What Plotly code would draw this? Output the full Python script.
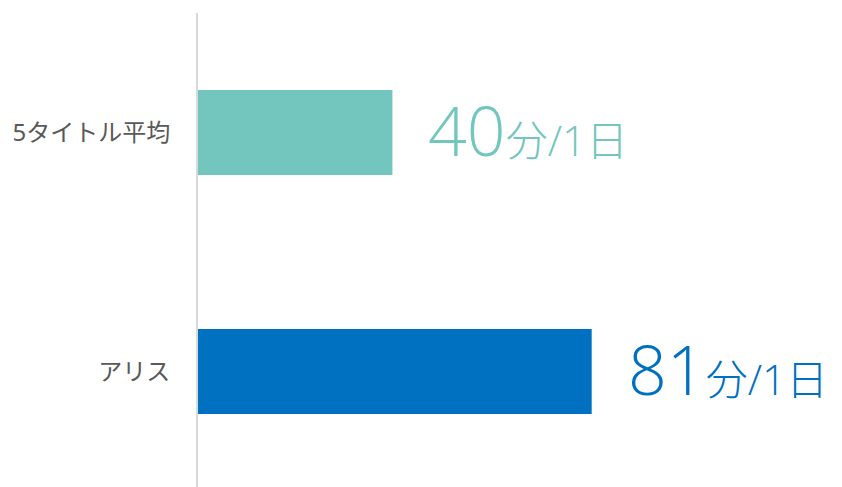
import plotly.graph_objects as go

# Daily play time (minutes per day)
categories = ["5タイトル平均", "アリス"]
minutes = [40, 81]
unit_label = "分/1日"
bar_colors = ["#72C6BE", "#0070C0"]

FONT = "Open Sans, Noto Sans CJK JP, sans-serif"
LABEL_FONT = "Noto Sans, Noto Sans CJK JP, sans-serif"

fig = go.Figure(
    go.Bar(
        x=minutes,
        y=categories,
        orientation="h",
        marker=dict(color=bar_colors, line=dict(width=0)),
        width=0.356,
        hoverinfo="skip",
    )
)

# Value labels to the right of each bar
for cat, val, col in zip(categories, minutes, bar_colors):
    fig.add_annotation(
        x=val,
        y=cat,
        xref="x",
        yref="y",
        text=f"{val}<span style='font-size:42px'>{unit_label}</span>",
        showarrow=False,
        xanchor="left",
        yanchor="middle",
        xshift=34,
        yshift=3,
        font=dict(family=FONT, size=68, color=col, weight=300),
    )

fig.update_layout(
    width=842,
    height=487,
    margin=dict(l=198, r=0, t=13, b=0),
    paper_bgcolor="white",
    plot_bgcolor="white",
    showlegend=False,
    xaxis=dict(
        range=[0, 132.5],
        visible=False,
        fixedrange=True,
    ),
    yaxis=dict(
        range=[1.483, -0.5],
        showline=True,
        linecolor="#D9D9D9",
        linewidth=2,
        showgrid=False,
        zeroline=False,
        ticks="",
        ticklabelstandoff=21,
        tickfont=dict(family=LABEL_FONT, size=24, color="#595959"),
        fixedrange=True,
    ),
)

fig.write_html("out.html")
